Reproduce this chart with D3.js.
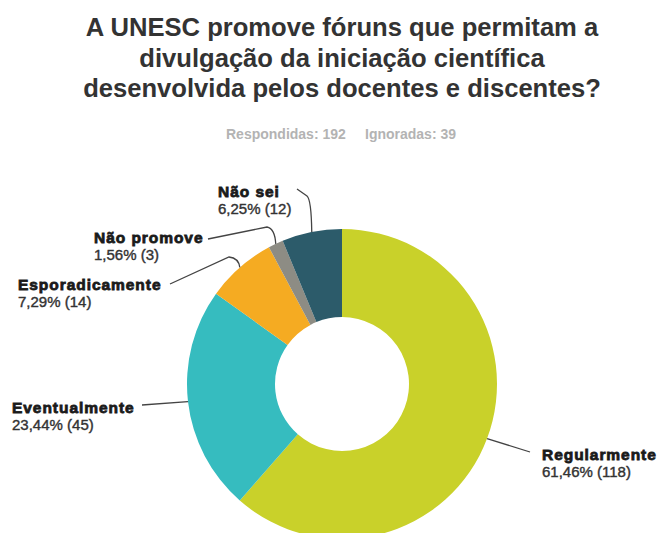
<!DOCTYPE html>
<html>
<head>
<meta charset="utf-8">
<script src="https://cdn.jsdelivr.net/npm/d3@7/dist/d3.min.js"></script>
<style>
  html, body { margin: 0; padding: 0; background: #fff; }
  svg { display: block; }
</style>
</head>
<body>
<svg id="chart" width="660" height="533"></svg>
<script>
// ---- data ----
const titleLines = ["A UNESC promove fóruns que permitam a", "divulgação da iniciação científica", "desenvolvida pelos docentes e discentes?"];
const answered = 192;
const skipped = 39;
const categories = ["Regularmente", "Eventualmente", "Esporadicamente", "Não promove", "Não sei"];
const percents = [61.46, 23.44, 7.29, 1.56, 6.25];
const counts = [118, 45, 14, 3, 12];
const colors = ["#c9d12a", "#36bcbf", "#f5ab22", "#8d8c84", "#2c5b6a"];

// ---- layout ----
const W = 660, H = 533;
const cx = 342, cy = 384, rOuter = 155, rInner = 67;
const labelLayout = [
  { x: 542, y: 460, lx: 530, ly: 452, bend: null },
  { x: 12,  y: 413, lx: 142, ly: 405, bend: null },
  { x: 18,  y: 290, lx: 170, ly: 284, bend: [229, 257] },
  { x: 94,  y: 243, lx: 208, ly: 239, bend: [267, 227] },
  { x: 218, y: 197, lx: 297, ly: 189, bend: [307, 196] }
];

const svg = d3.select("#chart");

// title
const title = svg.append("text")
  .attr("text-anchor", "middle")
  .attr("font-family", "Liberation Sans, Arial, sans-serif")
  .attr("font-weight", "bold")
  .attr("font-size", 25.6)
  .attr("fill", "#333");
titleLines.forEach((t, i) => {
  title.append("tspan").attr("x", 342).attr("y", 36 + i * 30.5).text(t);
});

// subtitle
const sub = svg.append("text")
  .attr("y", 139)
  .attr("font-family", "Liberation Sans, Arial, sans-serif")
  .attr("font-weight", "bold")
  .attr("font-size", 14)
  .attr("fill", "#b3b3b3");
sub.append("tspan").attr("x", 226).text(`Respondidas: ${answered}`);
sub.append("tspan").attr("x", 365).text(`Ignoradas: ${skipped}`);

// donut
const data = categories.map((c, i) => ({ name: c, pct: percents[i], count: counts[i], color: colors[i], i }));
const pie = d3.pie().value(d => d.pct).sort(null);
const arcs = pie(data);
const arc = d3.arc().innerRadius(rInner).outerRadius(rOuter);
const g = svg.append("g").attr("transform", `translate(${cx},${cy})`);
g.selectAll("path.slice")
  .data(arcs)
  .join("path")
  .attr("class", "slice")
  .attr("d", arc)
  .attr("fill", d => d.data.color);

// leader lines + labels
const fmt = v => v.toFixed(2).replace(".", ",");
arcs.forEach((a, i) => {
  const L = labelLayout[i];
  const mid = (a.startAngle + a.endAngle) / 2;
  const ax = cx + rOuter * Math.sin(mid);
  const ay = cy - rOuter * Math.cos(mid);
  const p = d3.path();
  p.moveTo(L.lx, L.ly);
  if (L.bend) {
    const [bx, by] = L.bend;
    p.lineTo(bx, by);
    p.quadraticCurveTo(bx + (ax - bx) * 0.9, by + (ay - by) * 0.1, ax, ay);
  } else {
    p.lineTo(ax, ay);
  }
  svg.append("path")
    .attr("d", p.toString())
    .attr("fill", "none")
    .attr("stroke", "#444")
    .attr("stroke-width", 1.3);

  svg.append("text")
    .attr("x", L.x).attr("y", L.y)
    .attr("font-family", "Liberation Sans, Arial, sans-serif")
    .attr("font-weight", "bold")
    .attr("font-size", 15.5)
    .attr("letter-spacing", 0.95)
    .attr("fill", "#1a1a1a")
    .attr("stroke", "#1a1a1a")
    .attr("stroke-width", 0.8)
    .text(a.data.name);
  svg.append("text")
    .attr("x", L.x).attr("y", L.y + 17)
    .attr("font-family", "Liberation Sans, Arial, sans-serif")
    .attr("font-size", 15)
    .attr("fill", "#333")
    .attr("stroke", "#333")
    .attr("stroke-width", 0.4)
    .text(`${fmt(a.data.pct)}% (${a.data.count})`);
});
</script>
</body>
</html>
